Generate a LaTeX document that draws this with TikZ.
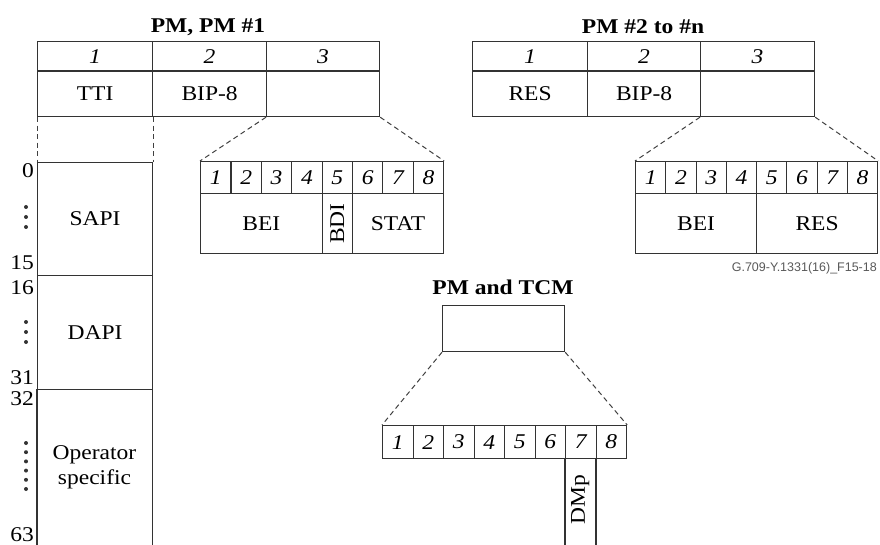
\documentclass[tikz,border=0pt]{standalone}
\usepackage{fontspec}
\setmainfont{Liberation Serif}[FakeStretch=1.12]
\newfontfamily\capfont{Liberation Sans}
\begin{document}
\begin{tikzpicture}[x=1pt,y=-1pt,
  linec/.style={draw=black!80, line width=1.2pt},
  box/.style={linec, inner sep=0pt, anchor=north west, font=\fontsize{21}{23}\selectfont},
  hdr/.style={box, font=\fontsize{21}{23}\selectfont\itshape},
  ttl/.style={font=\fontsize{21}{23}\selectfont\bfseries, inner sep=0pt},
  rownum/.style={font=\fontsize{21}{23}\selectfont, inner sep=0pt, anchor=east},
  zoomline/.style={draw=black!75, line width=1pt, dash pattern=on 5pt off 3.5pt},
  vdot/.style={fill=black!80, draw=none, circle, minimum size=4pt, inner sep=0pt}
]
\useasboundingbox (0,0) rectangle (880,545);
\newcommand\cellbox[7]{\node[#1, minimum width=#5pt, minimum height=#6pt] (#2) at (#3,#4) {#7};}

% ---------- Table PM, PM #1 ----------
\node[ttl] (t1title) at (208,27) {PM, PM \#1};
\cellbox{hdr}{a1}{37}{41}{115}{29.5}{1}
\cellbox{hdr}{a2}{152}{41}{114}{29.5}{2}
\cellbox{hdr}{a3}{266}{41}{113}{29.5}{3}
\cellbox{box}{b1}{37}{70.5}{115}{45.5}{TTI}
\cellbox{box}{b2}{152}{70.5}{114}{45.5}{BIP-8}
\cellbox{box}{b3}{266}{70.5}{113}{45.5}{}

% ---------- TTI column ----------
\cellbox{box}{sapi}{37}{162}{115}{113}{SAPI}
\cellbox{box}{dapi}{37}{275}{115}{114}{DAPI}
\node[inner sep=0pt, anchor=north west, minimum width=115pt, minimum height=156pt] (opsp) at (37,389) {};
\node[font=\fontsize{21}{25}\selectfont, align=center, inner sep=0pt] (optext) at (94.5,467) {Operator\\specific};
\draw[linec] (opsp.north west) -- (opsp.south west);
\draw[linec] (opsp.north east) -- (opsp.south east);
\draw[zoomline] (b1.south west) -- (sapi.north west);
\draw[zoomline] (b1.south east) -- (sapi.north east);

\node[rownum] (n0) at (34,171) {0};
\node[rownum] (n15) at (34,263) {15};
\node[rownum] (n16) at (34,288) {16};
\node[rownum] (n31) at (34,378) {31};
\node[rownum] (n32) at (34,399) {32};
\node[rownum] (n63) at (34,535) {63};
\foreach \yy [count=\i] in {207,217,227} \node[vdot] (ds\i) at (26,\yy) {};
\foreach \yy [count=\i] in {322,332,342} \node[vdot] (dd\i) at (26,\yy) {};
\foreach \yy [count=\i] in {443,452.2,461.4,470.6,479.8,489} \node[vdot] (do\i) at (26,\yy) {};

% ---------- bit box 1 ----------
\foreach \k in {1,...,8} {
  \pgfmathsetmacro\xx{200+(\k-1)*30.375}
  \cellbox{hdr}{c\k}{\xx}{161}{30.375}{32}{\k}
}
\cellbox{box}{bei1}{200}{193}{121.5}{60}{BEI}
\cellbox{box}{bdi}{321.5}{193}{30.375}{60}{}
\node[rotate=90, font=\fontsize{21}{23}\selectfont, inner sep=0pt] (bditext) at (bdi.center) {BDI};
\cellbox{box}{stat}{351.875}{193}{91.125}{60}{STAT}
\draw[zoomline] (b3.south west) -- (c1.north west);
\draw[zoomline] (b3.south east) -- (c8.north east);

% ---------- Table PM #2 to #n ----------
\node[ttl] (t2title) at (643,27) {PM \#2 to \#n};
\cellbox{hdr}{d1}{472}{41}{115}{29.5}{1}
\cellbox{hdr}{d2}{587}{41}{113}{29.5}{2}
\cellbox{hdr}{d3}{700}{41}{114}{29.5}{3}
\cellbox{box}{e1}{472}{70.5}{115}{45.5}{RES}
\cellbox{box}{e2}{587}{70.5}{113}{45.5}{BIP-8}
\cellbox{box}{e3}{700}{70.5}{114}{45.5}{}

% ---------- bit box 2 ----------
\foreach \k in {1,...,8} {
  \pgfmathsetmacro\xx{635+(\k-1)*30.25}
  \cellbox{hdr}{f\k}{\xx}{161}{30.25}{32}{\k}
}
\cellbox{box}{bei2}{635}{193}{121}{60}{BEI}
\cellbox{box}{res2}{756}{193}{121}{60}{RES}
\draw[zoomline] (e3.south west) -- (f1.north west);
\draw[zoomline] (e3.south east) -- (f8.north east);
\node[font=\capfont\fontsize{12.5}{14}\selectfont, text=black!65, inner sep=0pt, anchor=east] (cap) at (877,268) {G.709-Y.1331(16)\_F15-18};

% ---------- PM and TCM ----------
\node[ttl] (t3title) at (503,287) {PM and TCM};
\cellbox{box}{pmt}{442}{305}{122}{46}{}
\foreach \k in {1,...,8} {
  \pgfmathsetmacro\xx{382+(\k-1)*30.5}
  \cellbox{hdr}{g\k}{\xx}{425}{30.5}{33}{\k}
}
\node[inner sep=0pt, anchor=north west, minimum width=30.5pt, minimum height=87pt] (dmp) at (565,458) {};
\draw[linec] (dmp.north west) -- (dmp.south west);
\draw[linec] (dmp.north east) -- (dmp.south east);
\node[rotate=90, font=\fontsize{21}{23}\selectfont, inner sep=0pt] (dmptext) at (580.25,500) {DMp};
\draw[zoomline] (pmt.south west) -- (g1.north west);
\draw[zoomline] (pmt.south east) -- (g8.north east);
\end{tikzpicture}
\end{document}
